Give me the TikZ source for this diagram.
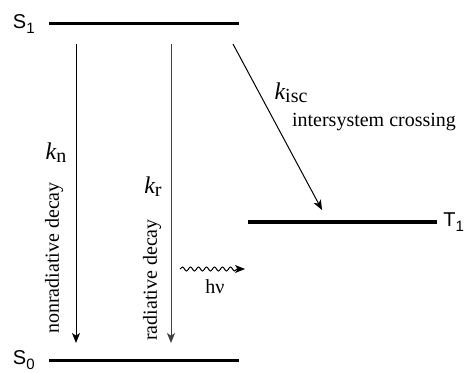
\documentclass[tikz,border=0pt]{standalone}
\usepackage{fontspec}
\setmainfont{Liberation Serif}
\newfontfamily\levfont{Liberation Sans}
\usetikzlibrary{arrows.meta}
\usetikzlibrary{decorations.pathmorphing}
\usetikzlibrary{positioning}

\newcommand{\ratek}[1]{{\fontsize{12}{14}\selectfont\itshape k}\raisebox{-1.5pt}{#1}}
\newcommand{\levname}[2]{#1\raisebox{-2.5pt}{\fontsize{7.5}{9}\selectfont #2}}

\begin{document}
\begin{tikzpicture}[
x=0.5pt, y=-0.5pt,
level/.style={line width=1.5pt},
levlab/.style={inner sep=0pt, font=\levfont\fontsize{10}{12}\selectfont},
rate/.style={line width=0.5pt, -{Stealth[length=5pt,width=4pt,inset=1.3pt]}},
txt/.style={inner sep=0pt, font=\fontsize{10}{12}\selectfont}
]

\useasboundingbox (0,0) rectangle (464,373);

% levels
\coordinate (s1l) at (49,24);
\coordinate (s1r) at (239,24);
\coordinate (s0l) at (49,360);
\coordinate (s0r) at (239,360);
\coordinate (t1l) at (248,222);
\coordinate (t1r) at (437,222);

\draw[level] (s1l) -- (s1r);
\draw[level] (s0l) -- (s0r);
\draw[level] (t1l) -- (t1r);

\node[levlab, left=7pt of s1l] (s1) {\levname{S}{1}};
\node[levlab, left=7pt of s0l] (s0) {\levname{S}{0}};
\node[levlab, right=3pt of t1r] (t1) {\levname{T}{1}};

% transitions
\coordinate (n1) at (76,44);
\coordinate (n0) at (76,343);
\coordinate (r1) at (171,44);
\coordinate (r0) at (171,343);
\coordinate (i1) at (233,44);
\coordinate (i0) at (322,210);

\draw[rate] (n1) -- (n0);
\draw[rate, black!75] (r1) -- (r0);
\draw[rate] (i1) -- (i0);

\node[txt] (kn) at (56,153) {\ratek{n}};
\node[txt] (kr) at (153,187) {\ratek{r}};
\node[txt] (kisc) at (291,93) {\ratek{isc}};
\node[txt] (isc) at (374,122) {intersystem crossing};
\node[txt, rotate=90] (nrd) at (54,258) {nonradiative decay};
\node[txt, rotate=90] (rd) at (152,280) {radiative decay};

% emitted photon
\coordinate (w0) at (180,269);
\coordinate (w1) at (245,269);
\draw[line width=0.5pt, -{Stealth[length=5pt,width=4pt,inset=1.3pt]},
  decorate, decoration={snake, segment length=4pt, amplitude=1pt, post length=4pt}] (w0) -- (w1);
\node[txt] (hv) at (215,287) {hν};

\end{tikzpicture}
\end{document}
